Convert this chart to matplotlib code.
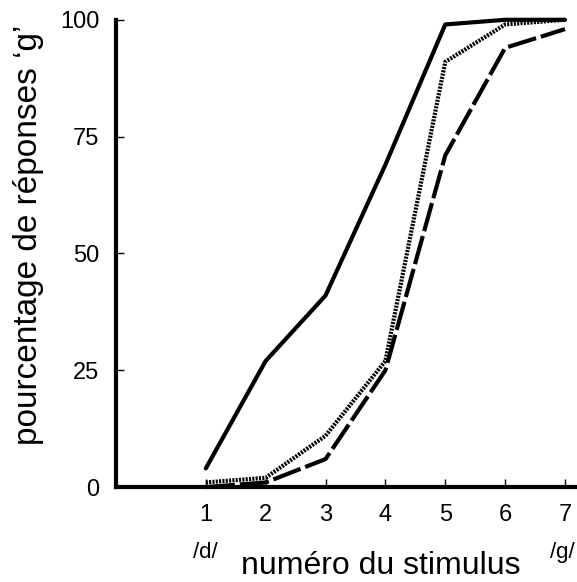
import matplotlib
matplotlib.use("Agg")
from matplotlib import pyplot as plt

plt.rcParams['font.family'] = ['Liberation Sans', 'DejaVu Sans']

stimulus = [1, 2, 3, 4, 5, 6, 7]
solid_pct = [4, 27, 41, 69, 99, 100, 100]
dotted_pct = [1, 2, 11, 27, 91, 99, 100]
dashed_pct = [0, 1, 6, 25, 71, 94, 98]

y_ticks = [0, 25, 50, 75, 100]

fig = plt.figure(figsize=(5.77, 5.82), dpi=100)
ax = fig.add_axes([0.201, 0.163, 0.799, 0.803])

ax.plot(stimulus, solid_pct, '-', color='black', linewidth=3, clip_on=False,
        solid_capstyle='round')
ax.plot(stimulus, dotted_pct, color='black', linewidth=3, linestyle=(0, (0.5, 0.3)),
        clip_on=False)
ax.plot(stimulus, dashed_pct, color='black', linewidth=3, linestyle=(0, (7, 1.2)),
        clip_on=False)

ax.set_xlim(-0.5, 7.2)
ax.set_ylim(0, 100)

for side in ['top', 'right']:
    ax.spines[side].set_visible(False)
for side in ['left', 'bottom']:
    ax.spines[side].set_linewidth(3)

ax.set_xticks(stimulus)
ax.set_yticks(y_ticks)
ax.tick_params(axis='both', direction='in', length=6, width=1, labelsize=17)
ax.tick_params(axis='x', pad=12)
ax.tick_params(axis='y', pad=12)

ax.set_ylabel('pourcentage de réponses ‘g’', fontsize=24)
ax.yaxis.set_label_coords(-0.157, 0.54)

# x label and endpoint phoneme labels placed below the axis
fig.text(0.66, 1 - 566 / 582, 'numéro du stimulus', fontsize=23, ha='center', va='center')
ax.text(1, -14, '/d/', fontsize=16, ha='center', va='center', clip_on=False)
ax.text(6.95, -14, '/g/', fontsize=16, ha='center', va='center', clip_on=False)

fig.savefig('out.png', dpi=100)
